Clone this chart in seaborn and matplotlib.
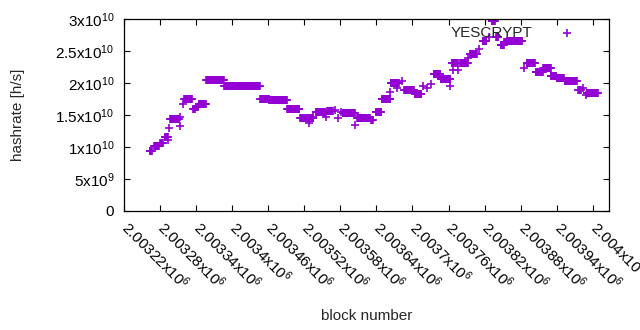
import numpy as np
import pandas as pd
import seaborn as sns
import matplotlib
matplotlib.use("Agg")
import matplotlib.pyplot as plt
from matplotlib.ticker import FuncFormatter
from matplotlib.transforms import ScaledTranslation

# runs of blocks sharing the same estimated hashrate (start block, end block, rate in 1e9 h/s)
run_start = [2003263, 2003270, 2003280, 2003288, 2003295, 2003294, 2003297, 2003313, 2003314,
             2003318, 2003320, 2003335, 2003340, 2003344, 2003357, 2003387, 2003447, 2003462,
             2003492, 2003513, 2003527, 2003534, 2003539, 2003555, 2003556, 2003558, 2003571,
             2003576, 2003581, 2003584, 2003605, 2003608, 2003631, 2003639, 2003649, 2003662,
             2003664, 2003675, 2003682, 2003686, 2003704, 2003717, 2003724, 2003730, 2003735,
             2003747, 2003762, 2003765, 2003767, 2003775, 2003779, 2003793, 2003795, 2003810,
             2003817, 2003828, 2003832, 2003839, 2003847, 2003853, 2003857, 2003886, 2003890,
             2003905, 2003918, 2003930, 2003940, 2003953, 2003976, 2003983, 2003989, 2003990]
run_end = [2003266, 2003278, 2003285, 2003293, 2003295, 2003294, 2003311, 2003313, 2003314,
           2003318, 2003333, 2003338, 2003343, 2003356, 2003386, 2003446, 2003461, 2003491,
           2003512, 2003535, 2003527, 2003534, 2003554, 2003555, 2003556, 2003567, 2003571,
           2003576, 2003581, 2003604, 2003605, 2003629, 2003634, 2003648, 2003663, 2003662,
           2003677, 2003675, 2003682, 2003702, 2003715, 2003717, 2003724, 2003730, 2003746,
           2003763, 2003762, 2003775, 2003767, 2003775, 2003792, 2003793, 2003807, 2003810,
           2003823, 2003828, 2003837, 2003843, 2003852, 2003856, 2003883, 2003886, 2003904,
           2003917, 2003930, 2003939, 2003952, 2003973, 2003980, 2003983, 2003989, 2004008]
run_rate = [9.3, 10.2, 10.6, 11.5, 12.9, 11.1, 14.4, 14.7, 13.3,
            16.7, 17.5, 15.9, 16.3, 16.7, 20.4, 19.6, 17.45, 17.3,
            15.9, 14.5, 13.8, 14.7, 15.5, 15.3, 14.7, 15.6, 15.8,
            14.6, 15.5, 15.3, 13.5, 14.5, 14.2, 15.5, 17.5, 18.6,
            20.0, 19.2, 20.3, 18.9, 18.3, 19.5, 19.2, 19.8, 21.4,
            20.7, 19.6, 23.1, 22.1, 22.1, 23.1, 23.9, 24.5, 25.3,
            26.5, 27.2, 29.7, 27.2, 26.0, 26.4, 26.6, 22.4, 23.2,
            21.7, 22.3, 21.1, 20.8, 20.3, 18.9, 19.2, 18.1, 18.4]

x_ticks = [2003220 + 60 * k for k in range(14)]
y_ticks = [0, 5e9, 1e10, 1.5e10, 2e10, 2.5e10, 3e10]

blocks, rates = [], []
for a, b, r in zip(run_start, run_end, run_rate):
    for blk in range(a, b + 1):
        blocks.append(blk)
        rates.append(r * 1e9)
df = pd.DataFrame({"block": blocks, "hashrate": rates})

sns.set_theme(style="ticks")
plt.rcParams["font.family"] = ["Liberation Sans", "DejaVu Sans"]
plt.rcParams["mathtext.fontset"] = "custom"
plt.rcParams["mathtext.rm"] = "Liberation Sans"
plt.rcParams["mathtext.it"] = "Liberation Sans"

fig = plt.figure(figsize=(6.4, 3.3), dpi=100)
ax = fig.add_axes([124 / 640, 1 - 211 / 330, 485 / 640, 192 / 330])

sns.scatterplot(data=df, x="block", y="hashrate", marker="+", color="#9400d3",
                s=28, linewidth=1.2, ax=ax, label="YESCRYPT")

ax.set_xlim(2003220, 2004027)
ax.set_ylim(0, 3e10)
ax.set_xticks(x_ticks)
ax.set_yticks(y_ticks)


def sci_fmt(v, pos):
    if v == 0:
        return "0"
    e = int(np.floor(np.log10(abs(v)) + 1e-9))
    m = v / 10 ** e
    return f"{m:g}x10$^{{{e}}}$"


ax.xaxis.set_major_formatter(FuncFormatter(sci_fmt))
ax.yaxis.set_major_formatter(FuncFormatter(sci_fmt))
ax.tick_params(direction="in", length=4, width=0.8, colors="black", labelsize=11,
               top=True, right=True)
ax.tick_params(axis="y", pad=7)
ax.tick_params(axis="x", pad=13)
shift = ScaledTranslation(-0.04, 0, fig.dpi_scale_trans)
for lbl in ax.get_xticklabels():
    lbl.set_rotation(-45)
    lbl.set_ha("left")
    lbl.set_va("baseline")
    lbl.set_rotation_mode("anchor")
    lbl.set_transform(lbl.get_transform() + shift)
for sp in ax.spines.values():
    sp.set_visible(True)
    sp.set_color("black")
    sp.set_linewidth(0.9)

ax.set_xlabel("block number", fontsize=11)
ax.set_ylabel("hashrate [h/s]", fontsize=11)
ax.xaxis.set_label_coords(0.5, -0.51)
ax.yaxis.set_label_coords(-0.205, 0.5)

ax.legend(loc="upper right", bbox_to_anchor=((582.5 - 124) / 485, (211 - 26) / 192),
          markerfirst=False, frameon=False, fontsize=11, borderpad=0, borderaxespad=0,
          handletextpad=1.3, handlelength=2)

fig.savefig("out.png", dpi=100)
